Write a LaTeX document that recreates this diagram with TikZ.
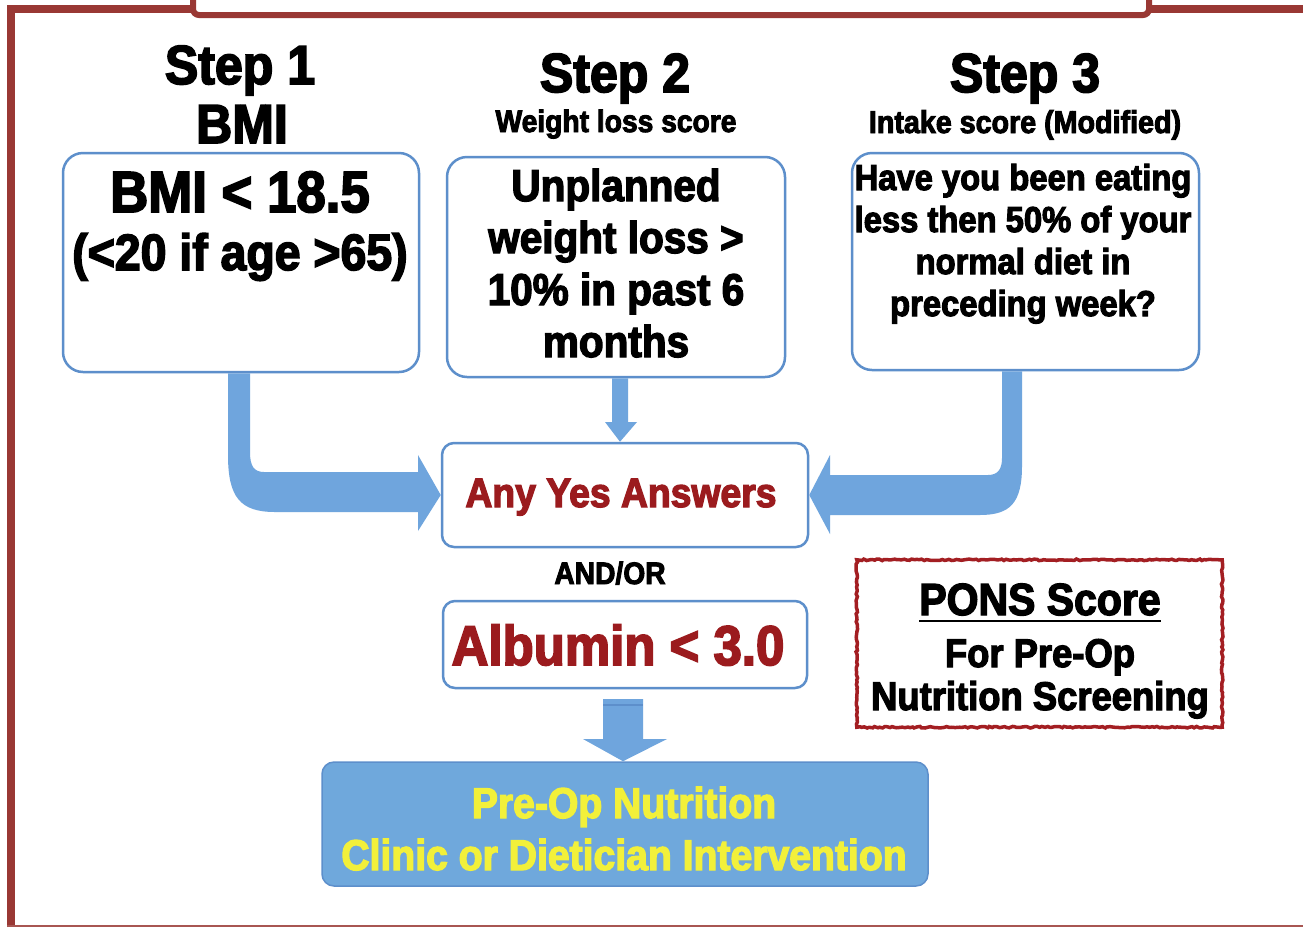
\documentclass[tikz,border=0pt]{standalone}
\usepackage{fontspec}
\newfontfamily\imp{Liberation Sans Bold}[FakeStretch=0.91,FakeBold=3]
\usetikzlibrary{calc,decorations.pathmorphing}
\definecolor{framered}{HTML}{993834}
\definecolor{boxblue}{HTML}{5D8FCB}
\definecolor{arrowblue}{HTML}{6FA5DD}
\definecolor{finalfill}{HTML}{6FA8DC}
\definecolor{darkred}{HTML}{9B1B1E}
\definecolor{ponsred}{HTML}{A31E22}
\definecolor{yel}{HTML}{F2F03A}
\newcommand\fsz[1]{\fontsize{#1}{#1}\selectfont}

\begin{document}
\begin{tikzpicture}[x=1pt,y=-1pt,
  txt/.style={inner sep=0pt,anchor=base,font=\imp},
  qbox/.style={draw=boxblue,line width=2.5pt,rounded corners=20pt,fill=white,inner sep=0pt},
  rbox/.style={qbox,rounded corners=12pt},
  fatarrow/.style={fill=arrowblue,draw=none}]
\useasboundingbox (0,0) rectangle (1303,927);
\fill[white] (0,0) rectangle (1303,927);

% page frame
\draw[framered,line width=8pt] (11,927) -- (11,9) -- (1303,9);
\draw[framered!85,line width=2pt] (7,926) -- (1303,926);
\draw[framered,line width=6pt,fill=white,rounded corners=6pt] (193,-30) rectangle (1149,15);

% headings
\node[txt,font=\imp\fsz{55}] (s1) at (240,84) {Step 1};
\node[txt,font=\imp\fsz{55}] (s1b) at (242,143) {BMI};
\node[txt,font=\imp\fsz{55}] (s2) at (615,92) {Step 2};
\node[txt,font=\imp\fsz{31}] (s2b) at (616,132) {Weight loss score};
\node[txt,font=\imp\fsz{31.5}] (s3b) at (1025,133) {Intake score (Modified)};
\node[txt,font=\imp\fsz{55}] (s3) at (1025,92) {Step 3};

% question boxes
\node[qbox,minimum width=356pt,minimum height=219pt] (bmi) at (241,262.5) {};
\node[qbox,minimum width=338pt,minimum height=220pt] (wl) at (616,267) {};
\node[qbox,minimum width=347pt,minimum height=217pt] (intake) at (1025.5,261.5) {};
\node[rbox,minimum width=366pt,minimum height=104pt] (any) at (625,495) {};
\node[rbox,minimum width=364pt,minimum height=87pt] (alb) at (625,644.5) {};
\node[rbox,fill=finalfill,draw=boxblue,line width=1.5pt,minimum width=606pt,minimum height=124pt] (final) at (625,824) {};

% box texts
\node[txt,font=\imp\fsz{58}] at (240,212) {BMI < 18.5};
\node[txt,font=\imp\fsz{51}] at (240,270) {(<20 if age >65)};
\node[txt,font=\imp\fsz{44.5}] at (616,201) {Unplanned};
\node[txt,font=\imp\fsz{44.5}] at (616,253) {weight loss >};
\node[txt,font=\imp\fsz{44.5}] at (616,305) {10\% in past 6};
\node[txt,font=\imp\fsz{44.5}] at (616,357) {months};
\node[txt,font=\imp\fsz{36}] at (1023,190) {Have you been eating};
\node[txt,font=\imp\fsz{36}] at (1023,232) {less then 50\% of your};
\node[txt,font=\imp\fsz{36}] at (1023,274) {normal diet in};
\node[txt,font=\imp\fsz{36}] at (1023,316) {preceding week?};
\node[txt,font=\imp\fsz{41},text=darkred] at (621,507) {Any Yes Answers};
\node[txt,font=\imp\fsz{31}] (andor) at (610,584) {AND/OR};
\node[txt,font=\imp\fsz{56},text=darkred] at (618,665) {Albumin < 3.0};
\node[txt,font=\imp\fsz{43},text=yel] at (624,818) {Pre-Op Nutrition};
\node[txt,font=\imp\fsz{43},text=yel] at (624,870) {Clinic or Dietician Intervention};

% score legend
\node[inner sep=0pt,minimum width=365pt,minimum height=167pt] (pons) at (1039.5,643.5) {};
\draw[ponsred,line width=3.5pt,decorate,decoration={random steps,segment length=2.5pt,amplitude=0.8pt}]
  (pons.south west) rectangle (pons.north east);
\node[txt,font=\imp\fsz{45}] (ponst) at (1040,615) {PONS Score};
\draw[line width=2.5pt] ($(ponst.base west)+(0,6)$) -- ($(ponst.base east)+(0,6)$);
\node[txt,font=\imp\fsz{40}] at (1040,667) {For Pre-Op};
\node[txt,font=\imp\fsz{40}] at (1040,710) {Nutrition Screening};

% connectors
\coordinate (la) at (228,0);
\coordinate (lb) at (250,0);
\coordinate (ra) at (1022,0);
\coordinate (rb) at (1002,0);
\coordinate (sa) at (612,0);
\coordinate (sb) at (628,0);
\coordinate (st) at (620,0);
\coordinate (bt) at (623,0);

\fill[fatarrow] (bmi.south -| la) -- (228,455)
  .. controls (228,497) and (240,512) .. (275,512)
  -- (418,512) -- (418,531) -- (any.west) -- (418,455) -- (418,472)
  -- (264,472) .. controls (254,472) and (250,466) .. (250,452)
  -- (bmi.south -| lb) -- cycle;

\fill[fatarrow] (intake.south -| ra) -- (1022,466)
  .. controls (1022,503) and (1010,515) .. (980,515)
  -- (830,515) -- (830,534) -- (any.east) -- (830,455) -- (830,475)
  -- (988,475) .. controls (998,475) and (1002,469) .. (1002,458)
  -- (intake.south -| rb) -- cycle;

\fill[fatarrow] (wl.south -| sa) -- (612,422) -- (605,422) -- (any.north -| st)
  -- (637,422) -- (628,422) -- (wl.south -| sb) -- cycle;

\fill[fatarrow] (603,699) -- (603,739) -- (583,739) -- (final.north -| bt)
  -- (667,739) -- (643,739) -- (643,699) -- cycle;
\draw[boxblue,line width=1.5pt] (603,705) -- (643,705);
\end{tikzpicture}
\end{document}
